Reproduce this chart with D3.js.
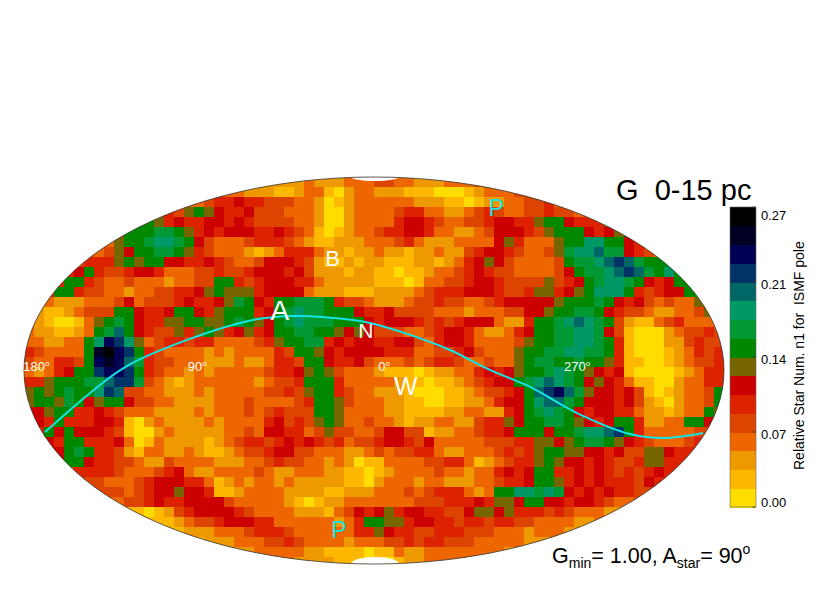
<!DOCTYPE html>
<html><head><meta charset="utf-8">
<script src="https://cdn.jsdelivr.net/npm/d3@7"></script>
<style>html,body{margin:0;padding:0;background:#fff}svg{display:block}text{font-family:"Liberation Sans",Arial,sans-serif}</style>
</head><body><div id="c"></div>
<script>
// Relative star number per sky cell, in colour-bin units of binWidth. Each row is centred on the map.
const binWidth = 0.0175;
const skyRows = [
[3,2,2,2,2,3,2,2,2,3,3,3,4,4,3,3,2,2,2,3,3,3,4,4],
[4,3,3,2,2,2,1,1,2,3,3,1,0,2,3,3,2,2,2,1,1,1,0,0,0,1,2,3,3,3,4,4],
[3,3,4,5,5,6,5,5,4,4,4,3,3,2,0,1,2,3,3,3,3,3,3,2,2,2,1,1,0,1,2,2,3,3,4,4,5,3],
[4,5,4,7,8,7,6,5,5,6,4,4,4,3,3,3,2,0,0,2,3,3,3,3,4,5,5,3,3,2,2,3,4,5,4,3,3,4,4,5,4,4,3,4],
[8,8,7,5,6,5,5,6,6,5,6,5,4,4,4,4,3,3,2,0,0,2,3,3,3,3,5,6,6,5,4,3,3,4,4,5,6,6,5,5,7,8,8,6,5,5,5,7],
[5,8,8,8,9,9,8,7,5,6,5,6,6,6,5,5,6,5,4,3,1,0,1,2,3,3,4,5,5,6,6,5,3,3,2,2,3,4,6,6,6,5,4,7,8,8,8,6,5,6,7,8],
[3,7,8,8,9,10,10,9,8,6,4,3,3,3,4,5,5,5,4,3,2,1,1,2,2,2,3,3,3,4,5,3,2,2,2,3,3,3,3,6,7,5,3,3,3,7,8,8,10,10,8,8,6,5],
[4,3,4,7,6,8,8,9,9,8,7,5,4,3,3,3,2,1,2,3,5,5,5,3,2,2,1,2,2,3,2,2,1,2,2,3,2,2,4,5,6,6,5,4,3,3,4,7,9,10,10,11,9,9,6,5,4,3],
[4,5,5,5,7,8,7,8,8,6,6,5,5,6,5,4,3,3,4,6,6,6,5,4,2,1,1,2,1,2,2,1,1,1,2,2,1,2,3,5,6,7,6,4,3,3,3,3,4,8,9,9,10,11,12,11,9,8,8,8],
[5,6,8,5,4,4,5,6,6,5,3,3,3,4,4,5,4,4,5,6,6,6,5,6,4,2,2,2,1,2,2,1,1,0,1,1,2,3,3,4,5,6,5,4,4,3,3,3,3,4,6,8,9,9,10,11,12,11,9,8,10,8],
[5,8,8,5,4,3,3,4,3,3,3,2,3,3,4,4,8,8,5,4,5,6,6,6,5,5,3,2,2,2,2,2,1,1,1,0,1,3,3,4,4,5,6,6,5,4,4,4,4,7,4,5,6,8,9,10,10,9,8,6,5,6,8,8],
[5,8,8,5,4,4,3,3,2,3,3,4,4,5,5,6,7,8,7,7,7,5,6,6,6,6,3,2,2,2,1,1,1,2,2,2,2,3,4,5,5,5,6,6,6,5,4,4,5,7,7,5,6,7,8,10,10,10,8,5,4,5,6,6,8,8],
[3,3,2,2,2,3,3,3,4,6,3,4,4,4,5,6,5,5,6,7,9,8,6,5,8,8,9,9,9,8,5,4,4,3,2,2,2,3,4,4,5,4,4,3,3,4,5,6,6,6,6,6,7,8,8,8,9,8,6,5,6,4,3,4,3,3,7,8],
[2,1,1,2,3,4,4,4,8,8,6,5,5,6,8,8,6,5,7,8,8,8,5,6,8,9,10,9,9,8,8,8,6,5,5,6,4,4,4,4,3,3,3,2,3,3,3,4,4,6,6,7,8,8,9,9,8,6,5,4,4,3,2,2,3,3,4,7],
[4,2,1,0,0,1,3,7,8,9,8,6,5,5,7,7,8,8,7,7,8,9,8,7,6,8,9,10,9,9,9,8,8,8,6,5,6,6,6,5,4,5,4,5,6,6,6,3,2,2,5,8,8,9,10,11,10,9,8,4,2,1,1,3,4,5,3,3,3,5],
[3,2,2,1,1,2,3,8,9,11,8,6,5,4,4,7,5,7,8,7,5,6,7,5,6,8,8,9,9,8,8,7,6,7,6,4,4,4,3,3,4,5,6,6,5,3,2,2,3,5,6,8,8,9,9,10,10,9,6,4,1,0,0,0,2,3,4,4,5,4],
[3,3,2,2,3,3,8,10,13,12,10,7,3,4,5,5,4,5,5,3,3,3,3,4,5,7,8,8,9,9,5,6,5,6,6,5,5,6,6,4,3,5,6,6,5,3,3,3,3,4,7,8,8,9,9,10,10,9,8,5,1,0,0,0,2,2,4,5,4,4],
[5,4,3,3,3,3,8,14,15,13,12,8,5,4,3,3,3,3,2,3,2,3,3,3,3,5,4,8,8,7,6,5,6,6,6,6,5,5,5,3,3,4,4,5,6,4,3,3,3,7,8,8,9,9,10,10,9,9,8,5,1,0,0,0,1,2,3,5,4,5],
[4,3,3,5,5,4,8,13,14,13,11,9,5,4,4,3,3,3,2,2,2,3,2,2,3,5,5,4,8,8,6,5,5,6,4,3,3,3,4,3,4,5,5,4,3,3,4,3,3,7,8,9,9,8,8,9,8,8,7,5,1,1,0,0,1,2,3,4,4,5],
[3,2,3,5,6,8,8,12,13,13,12,8,5,4,3,3,2,3,2,3,3,3,3,3,4,5,5,6,7,8,7,4,3,3,3,2,1,1,1,0,1,2,2,3,3,5,6,5,6,7,8,8,9,10,9,8,7,6,5,6,1,0,0,0,0,1,2,3,5,5],
[5,5,7,8,8,8,9,9,11,12,12,9,4,3,2,1,2,3,3,3,3,3,3,2,3,4,4,5,8,8,8,5,3,3,3,3,3,2,1,1,0,1,1,2,3,4,5,6,6,8,9,10,11,10,9,8,6,7,6,5,3,1,1,0,0,2,3,3,5,5],
[7,8,7,8,9,8,8,10,12,11,4,4,3,3,2,2,2,3,2,3,3,3,3,3,4,4,5,4,7,8,8,5,4,3,3,2,2,2,1,0,0,0,1,1,2,3,4,4,5,6,8,11,12,13,11,9,7,6,6,5,6,4,1,0,1,2,3,3,4,8],
[7,8,8,7,9,8,6,7,8,8,6,4,4,3,3,2,2,2,2,3,3,3,4,3,3,3,3,4,5,8,8,7,4,3,3,3,2,2,1,1,0,0,1,1,2,2,3,5,6,6,8,10,11,11,9,8,6,6,6,5,6,4,2,1,0,2,3,3,4,8],
[6,6,7,8,8,5,5,6,5,4,3,3,3,2,2,2,2,3,2,3,3,3,4,3,4,5,4,4,4,8,8,7,3,3,3,3,2,2,1,1,1,1,2,2,3,3,2,2,5,6,8,9,10,9,8,6,5,6,6,5,5,3,2,2,1,2,3,3,8,7],
[6,5,8,5,5,5,6,6,5,1,0,2,3,2,2,2,2,3,2,3,3,3,3,5,6,4,5,4,7,8,7,3,3,4,3,3,2,1,2,2,3,3,2,2,4,5,5,7,6,8,8,9,9,8,7,6,5,6,8,8,5,2,2,3,3,8,8,6],
[5,8,6,8,6,6,6,5,4,1,0,0,2,3,2,2,2,2,2,3,3,4,3,6,6,5,5,3,4,7,4,4,3,3,4,6,6,4,4,1,2,2,3,3,4,5,5,6,8,8,8,6,8,8,9,10,10,11,12,8,5,3,3,3,3,3,4,4],
[6,5,8,8,5,5,5,6,3,0,1,3,2,2,2,2,1,2,3,4,5,5,4,5,6,5,6,5,4,5,3,4,4,5,6,6,5,4,6,3,3,3,3,3,4,4,4,5,5,7,7,6,7,8,9,9,8,7,6,5,4,3,3,3,4,5],
[6,6,8,9,8,5,5,4,2,1,3,3,2,2,3,2,1,1,2,3,4,4,5,6,6,4,4,3,3,3,2,2,3,4,3,4,4,5,5,3,2,2,3,3,3,4,5,4,5,7,8,8,7,7,6,6,5,6,4,4,7,7,6,5,5,6],
[6,8,8,6,5,5,4,4,3,2,2,4,3,3,3,3,2,2,2,3,3,4,5,4,4,3,3,2,3,2,0,1,1,3,3,3,3,4,4,5,5,3,1,2,3,4,5,5,7,8,7,6,6,5,6,5,4,4,5,7,7,5,5,5],
[4,5,5,5,5,4,3,3,3,4,5,6,3,2,2,3,3,3,3,4,3,2,2,3,3,3,2,2,1,1,0,1,2,3,3,3,3,4,3,3,2,3,3,5,6,5,6,8,8,5,5,6,5,6,5,4,5,4,5,6,5,5],
[5,4,4,3,3,3,4,5,6,6,6,5,5,3,1,2,3,2,3,3,2,3,2,2,2,2,2,1,1,0,2,3,3,3,2,3,3,2,2,2,3,3,4,5,5,6,8,8,7,5,6,5,6,5,5,5,4,6,5,4],
[4,4,4,3,4,5,6,6,7,6,6,5,1,1,2,3,3,3,3,2,2,2,2,1,1,2,2,2,3,3,3,4,3,4,5,5,5,3,2,3,8,8,10,10,9,10,9,6,5,6,5,6,5,5,4,4],
[3,3,4,4,5,6,5,5,6,6,6,6,4,3,3,3,3,3,2,1,0,1,2,2,3,3,3,3,3,3,3,4,4,4,5,5,5,6,5,7,7,6,8,8,6,6,5,6,6,5,4,3,3,4],
[1,1,0,1,2,4,5,6,6,6,6,5,4,3,3,3,3,2,2,2,1,3,4,6,5,6,7,5,6,6,5,5,4,4,6,7,7,6,7,5,5,5,4,5,4,3,3,3,2,2],
[1,1,1,2,3,4,4,5,6,6,6,5,5,3,3,3,3,3,3,2,3,5,8,8,7,7,5,6,6,5,5,4,5,5,4,5,5,4,4,3,3,3,3,2,2,3],
[1,1,2,2,2,3,3,3,4,5,5,5,4,3,3,3,3,3,3,5,5,7,6,5,5,4,4,5,5,5,4,4,4,3,3,3,2,3,3,3,2,2],
[1,2,2,2,3,3,3,4,4,5,4,3,3,3,3,2,3,3,3,4,4,5,4,5,5,4,4,4,3,3,3,3,3,2,2,2],
[2,2,2,3,3,3,3,3,2,2,1,1,1,1,0,1,1,3,2,2,3,3,3,3,3,3,3,3,2,2],
[3,3,2,2,2,2,1,1,1,0,0,0,1,2,2,3,3,3,3,3]
];
const binColors = ["#ffdd00","#ffb800","#ee9900","#ee6600","#dd4400","#dd2200","#cc0000","#776600","#008800","#009933","#009966","#006666","#003366","#000055","#000022","#000000"];
const tickValues = [0, 0.07, 0.14, 0.21, 0.28];
const tickLabels = ["0.00", "0.07", "0.14", "0.21", "0.27"];
// Curve across the sky, in map units (-1..1 on each axis).
const curveU = [-.94,-.811,-.711,-.534,-.346,-.231,-.06,-.011,.103,.217,.331,.446,.58,.731,.826,.94];
const curveV = [-.318,-.116,.018,.158,.261,.282,.261,.245,.184,.106,.003,-.085,-.22,-.328,-.349,-.323];
const lonLabels = ["180", "90", "0", "270"];
const lonU = [-.965, -.505, .029, .58];
const markers = [
  {t:"A",u:-.269,v:.31,s:28,c:"#fff"},{t:"B",u:-.118,v:.58,s:22,c:"#fff"},
  {t:"N",u:-.023,v:.205,s:21,c:"#fff"},{t:"W",u:.091,v:-.08,s:25,c:"#fff"},
  {t:"P",u:.349,v:.84,s:23,c:"#11e5e5"},{t:"P",u:-.10,v:-.825,s:23,c:"#11e5e5"}
];

const W = 830, H = 593;
const svg = d3.select("#c").append("svg").attr("width", W).attr("height", H);
const px = d3.scaleLinear([-1, 1], [24, 724]);
const py = d3.scaleLinear([-1, 1], [564, 177]);
const color = d3.scaleQuantize([0, 0.28], binColors);
const nCols = 70;
const col = d3.scaleBand(d3.range(nCols), [24, 724]);
const row = d3.scaleBand(d3.range(skyRows.length), [177, 567]);
const rx = px(1) - px(0), ry = py(-1) - py(0);

svg.append("clipPath").attr("id", "sky").append("ellipse")
  .attr("cx", px(0)).attr("cy", py(0)).attr("rx", rx).attr("ry", ry);

const cells = skyRows.flatMap((r, j) => {
  const off = Math.floor((nCols - r.length) / 2);
  return r.map((b, i) => ({ i: i + off, j, v: (b + 0.5) * binWidth }));
});
svg.append("g").attr("clip-path", "url(#sky)").attr("shape-rendering", "crispEdges")
  .selectAll("rect").data(cells).join("rect")
  .attr("x", d => col(d.i)).attr("y", d => row(d.j))
  .attr("width", col.bandwidth() + .5).attr("height", row.bandwidth() + .5)
  .attr("fill", d => color(d.v));

// Polar caps with no data
const caps = [{ v: 1, ry: 4 }, { v: -1, ry: 7 }];
svg.append("g").attr("clip-path", "url(#sky)").selectAll("ellipse").data(caps).join("ellipse")
  .attr("cx", px(0) + 1).attr("cy", d => py(d.v)).attr("rx", 24).attr("ry", d => d.ry).attr("fill", "#fff");

svg.append("ellipse").attr("cx", px(0)).attr("cy", py(0)).attr("rx", rx).attr("ry", ry)
  .attr("fill", "none").attr("stroke", "#333").attr("stroke-width", .8);

svg.append("path").attr("fill", "none").attr("stroke", "#11e5e5").attr("stroke-width", 2)
  .attr("d", d3.line().x(d => px(d[0])).y(d => py(d[1])).curve(d3.curveCatmullRom)(d3.zip(curveU, curveV)));

// Longitude labels
const lon = svg.append("g").attr("fill", "#fff").attr("font-size", 13);
lonLabels.forEach((t, k) => {
  const el = lon.append("text").attr("x", px(lonU[k])).attr("y", 371).attr("text-anchor", "middle");
  el.append("tspan").text(t);
  el.append("tspan").attr("dy", -5).attr("font-size", 8).text("o");
});

svg.append("g").selectAll("text").data(markers).join("text")
  .attr("x", d => px(d.u)).attr("y", d => py(d.v)).attr("text-anchor", "middle").attr("dominant-baseline", "central")
  .attr("font-size", d => d.s).attr("fill", d => d.c).text(d => d.t);

// Title
svg.append("text").attr("x", 616).attr("y", 200).attr("font-size", 29).attr("fill", "#000")
  .style("white-space", "pre").text("G  0-15 pc");

// Bottom note
const note = svg.append("text").attr("x", 552).attr("y", 563).attr("font-size", 21.5).attr("fill", "#000").style("white-space", "pre");
note.append("tspan").text("G");
note.append("tspan").attr("dy", 5).attr("font-size", 14).text("min");
note.append("tspan").attr("dy", -5).text("= 1.00, A");
note.append("tspan").attr("dy", 5).attr("font-size", 14).text("star");
note.append("tspan").attr("dy", -5).text("= 90");
note.append("tspan").attr("dy", -9).attr("font-size", 14).text("o");

// Colour bar
const barY = d3.scaleLinear([0, 0.28], [507, 207]);
const bar = svg.append("g");
const bands = binColors.map((c, i) => i);
bar.selectAll("rect").data(bands).join("rect").attr("shape-rendering", "crispEdges")
  .attr("x", 730).attr("width", 26)
  .attr("y", i => barY((i + 1) * binWidth)).attr("height", i => barY(i * binWidth) - barY((i + 1) * binWidth) + .5)
  .attr("fill", i => binColors[i]);
bar.append("rect").attr("x", 730).attr("y", 207).attr("width", 26).attr("height", 300)
  .attr("fill", "none").attr("stroke", "#666").attr("stroke-width", .6);
bar.selectAll("line").data(tickValues).join("line")
  .attr("x1", 752).attr("x2", 756).attr("y1", barY).attr("y2", barY).attr("stroke", "#333").attr("stroke-width", .6);
bar.selectAll("text").data(tickValues).join("text")
  .attr("x", 761).attr("y", v => Math.min(502, Math.max(215, barY(v) + 2))).attr("dy", "0.35em")
  .attr("font-size", 13).attr("fill", "#000").text((v, i) => tickLabels[i]);
svg.append("text").attr("transform", "translate(804,470) rotate(-90)")
  .attr("font-size", 14).attr("fill", "#000").style("white-space", "pre")
  .text("Relative Star Num. n1 for  ISMF pole");
</script></body></html>
